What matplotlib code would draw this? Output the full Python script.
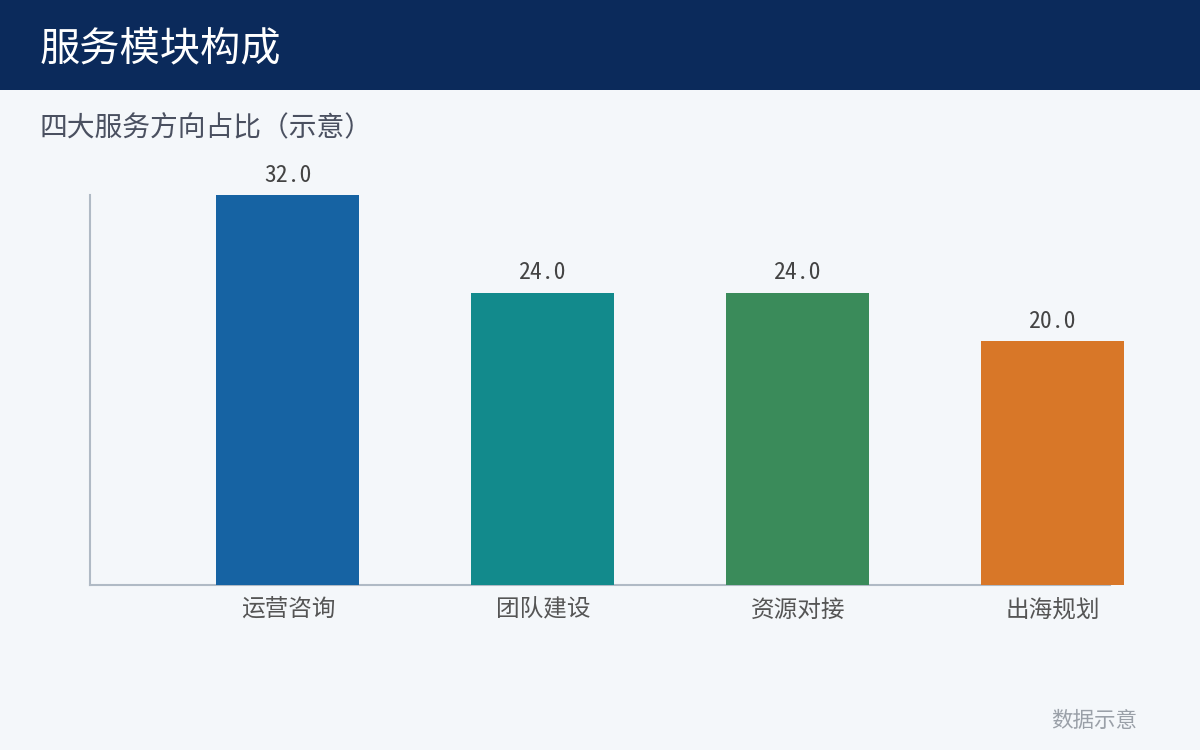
import matplotlib
matplotlib.use("Agg")
import matplotlib.pyplot as plt
from matplotlib.patches import Rectangle

plt.rcParams['font.family'] = ['Noto Sans CJK SC', 'DejaVu Sans']

# data
categories = ["运营咨询", "团队建设", "资源对接", "出海规划"]
values = [32.0, 24.0, 24.0, 20.0]
bar_colors = ["#1663A3", "#128A8C", "#3A8B5A", "#D87728"]

title = "服务模块构成"
subtitle = "四大服务方向占比（示意）"
footer = "数据示意"

W, H = 1200, 750
fig = plt.figure(figsize=(12, 7.5), dpi=100)
fig.patch.set_facecolor("#F4F7FA")

# header band
fig.patches.append(Rectangle((0, 1 - 90 / H), 1, 90 / H, transform=fig.transFigure,
                             facecolor="#0B2A5B", edgecolor="none", zorder=0))
fig.text(40 / W, 1 - 49 / H, title, color="white", fontsize=29, va="center", ha="left")
fig.text(40 / W, 1 - 128 / H, subtitle, color="#4A5060", fontsize=20, va="center", ha="left")
fig.text(1137 / W, 1 - 721 / H, footer, color="#9AA0A8", fontsize=15.5, va="center", ha="right")

ax = fig.add_axes([90 / W, 165 / H, 1020 / W, 390 / H])
ax.set_facecolor("#F4F7FA")
x = list(range(len(categories)))
bars = ax.bar(x, values, width=0.56, color=bar_colors, zorder=3, clip_on=False)
ax.set_xlim(-0.776, 3.224)
ax.set_ylim(0, 32)

# value labels, half-width digits like the reference
for xi, v in zip(x, values):
    ax.annotate(f"{v:.1f}", (xi, v), xytext=(0, 6), textcoords="offset points",
                ha="center", va="bottom", fontsize=17, color="#444444",
                family=['Noto Sans Mono CJK SC', 'Noto Sans CJK SC', 'DejaVu Sans'])

ax.set_xticks(x)
ax.set_xticklabels(categories, fontsize=17, color="#555555")
ax.tick_params(axis="x", length=0, pad=10)
ax.set_yticks([])
for side in ["top", "right"]:
    ax.spines[side].set_visible(False)
for side in ["left", "bottom"]:
    ax.spines[side].set_color("#B0BAC5")
    ax.spines[side].set_linewidth(1.5)

fig.savefig("out.png", dpi=100, facecolor=fig.get_facecolor())
